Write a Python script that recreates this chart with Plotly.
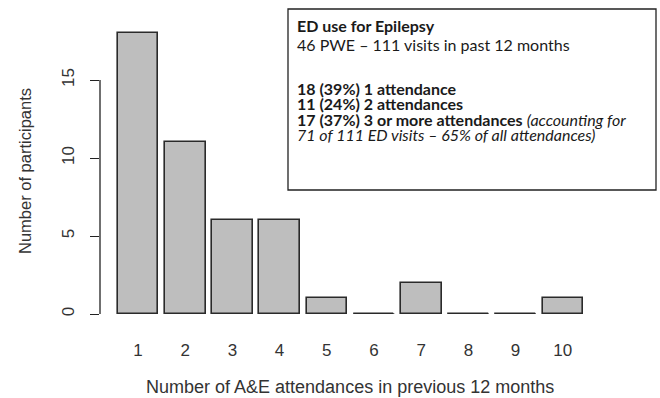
import plotly.graph_objects as go

# ---- data ----
attendances = [1, 2, 3, 4, 5, 6, 7, 8, 9, 10]
participants = [18, 11, 6, 6, 1, 0, 2, 0, 0, 1]
y_ticks = [0, 5, 10, 15]
x_title = "Number of A&E attendances in previous 12 months"
y_title = "Number of participants"
box_lines = [
    "<b>ED use for Epilepsy</b>",
    "46 PWE – 111 visits in past 12 months",
    "<b>18 (39%) 1 attendance</b>",
    "<b>11 (24%) 2 attendances</b>",
    "<b>17 (37%) 3 or more attendances</b> <i>(accounting for</i>",
    "<i>71 of 111 ED visits – 65% of all attendances)</i>",
]
box_line_px = [26, 45, 88, 103.5, 119, 134.5]

W, H = 660, 398
ML, MR, MT, MB = 100, 0, 0, 84
pw, ph = W - ML - MR, H - MT - MB
bar_w = 0.86

def px_to_paper_x(px):
    return (px - ML) / pw

def px_to_paper_y(py):
    return (H - MB - py) / ph

fig = go.Figure()
fig.add_trace(go.Bar(
    x=attendances, y=participants, width=bar_w,
    marker=dict(color="#bebebe", line=dict(color="#2a2a2a", width=1.6)),
    hoverinfo="x+y",
))

shapes = []
# zero-height bars drawn as flat outlines (as base R does)
for a, v in zip(attendances, participants):
    if v == 0:
        shapes.append(dict(type="line", xref="x", yref="y",
                           x0=a - bar_w / 2, x1=a + bar_w / 2, y0=0, y1=0,
                           line=dict(color="#2a2a2a", width=1.6)))
# R-style y axis line spanning only the tick range
shapes.append(dict(type="line", xref="paper", yref="y", x0=0, x1=0,
                   y0=min(y_ticks), y1=max(y_ticks),
                   line=dict(color="#222", width=1.3)))
# info box
shapes.append(dict(type="rect", xref="paper", yref="paper",
                   x0=px_to_paper_x(288), x1=px_to_paper_x(656),
                   y0=px_to_paper_y(190), y1=px_to_paper_y(9),
                   line=dict(color="#222", width=1.3), fillcolor="white"))

annotations = []
for txt, py in zip(box_lines, box_line_px):
    annotations.append(dict(text=txt, xref="paper", yref="paper",
                            x=px_to_paper_x(295), y=px_to_paper_y(py),
                            xanchor="left", yanchor="middle", showarrow=False,
                            font=dict(family="Lato", size=16, color="#1a1a1a")))
annotations.append(dict(text=x_title, xref="paper", yref="paper",
                        x=px_to_paper_x(350), y=px_to_paper_y(387),
                        xanchor="center", yanchor="middle", showarrow=False,
                        font=dict(family="Liberation Sans", size=18, color="#333")))
annotations.append(dict(text=y_title, xref="paper", yref="paper",
                        x=px_to_paper_x(25), y=px_to_paper_y(171),
                        xanchor="center", yanchor="middle", showarrow=False,
                        textangle=-90,
                        font=dict(family="Liberation Sans", size=16.5, color="#333")))

x0 = attendances[0] - (138 - ML) / 47.2
fig.update_layout(
    width=W, height=H,
    margin=dict(l=ML, r=MR, t=MT, b=MB, pad=0),
    paper_bgcolor="white", plot_bgcolor="white",
    showlegend=False, bargap=0,
    font=dict(family="Liberation Sans", color="#333"),
    xaxis=dict(range=[x0, x0 + pw / 47.2], tickvals=attendances,
               ticktext=[str(a) for a in attendances], ticks="",
               showline=False, showgrid=False, zeroline=False,
               ticklabelstandoff=24, tickfont=dict(size=17, color="#333")),
    yaxis=dict(range=[0, ph / 15.6], tickvals=y_ticks, ticks="outside",
               ticklen=9, tickwidth=1.3, tickcolor="#222", tickangle=-90,
               showline=False, showgrid=False, zeroline=False,
               ticklabelstandoff=9, tickfont=dict(size=17, color="#333")),
    shapes=shapes, annotations=annotations,
)
fig.write_html("out.html", config={"displayModeBar": False},
               post_script="document.body.style.margin='0';document.body.style.overflow='hidden';")
